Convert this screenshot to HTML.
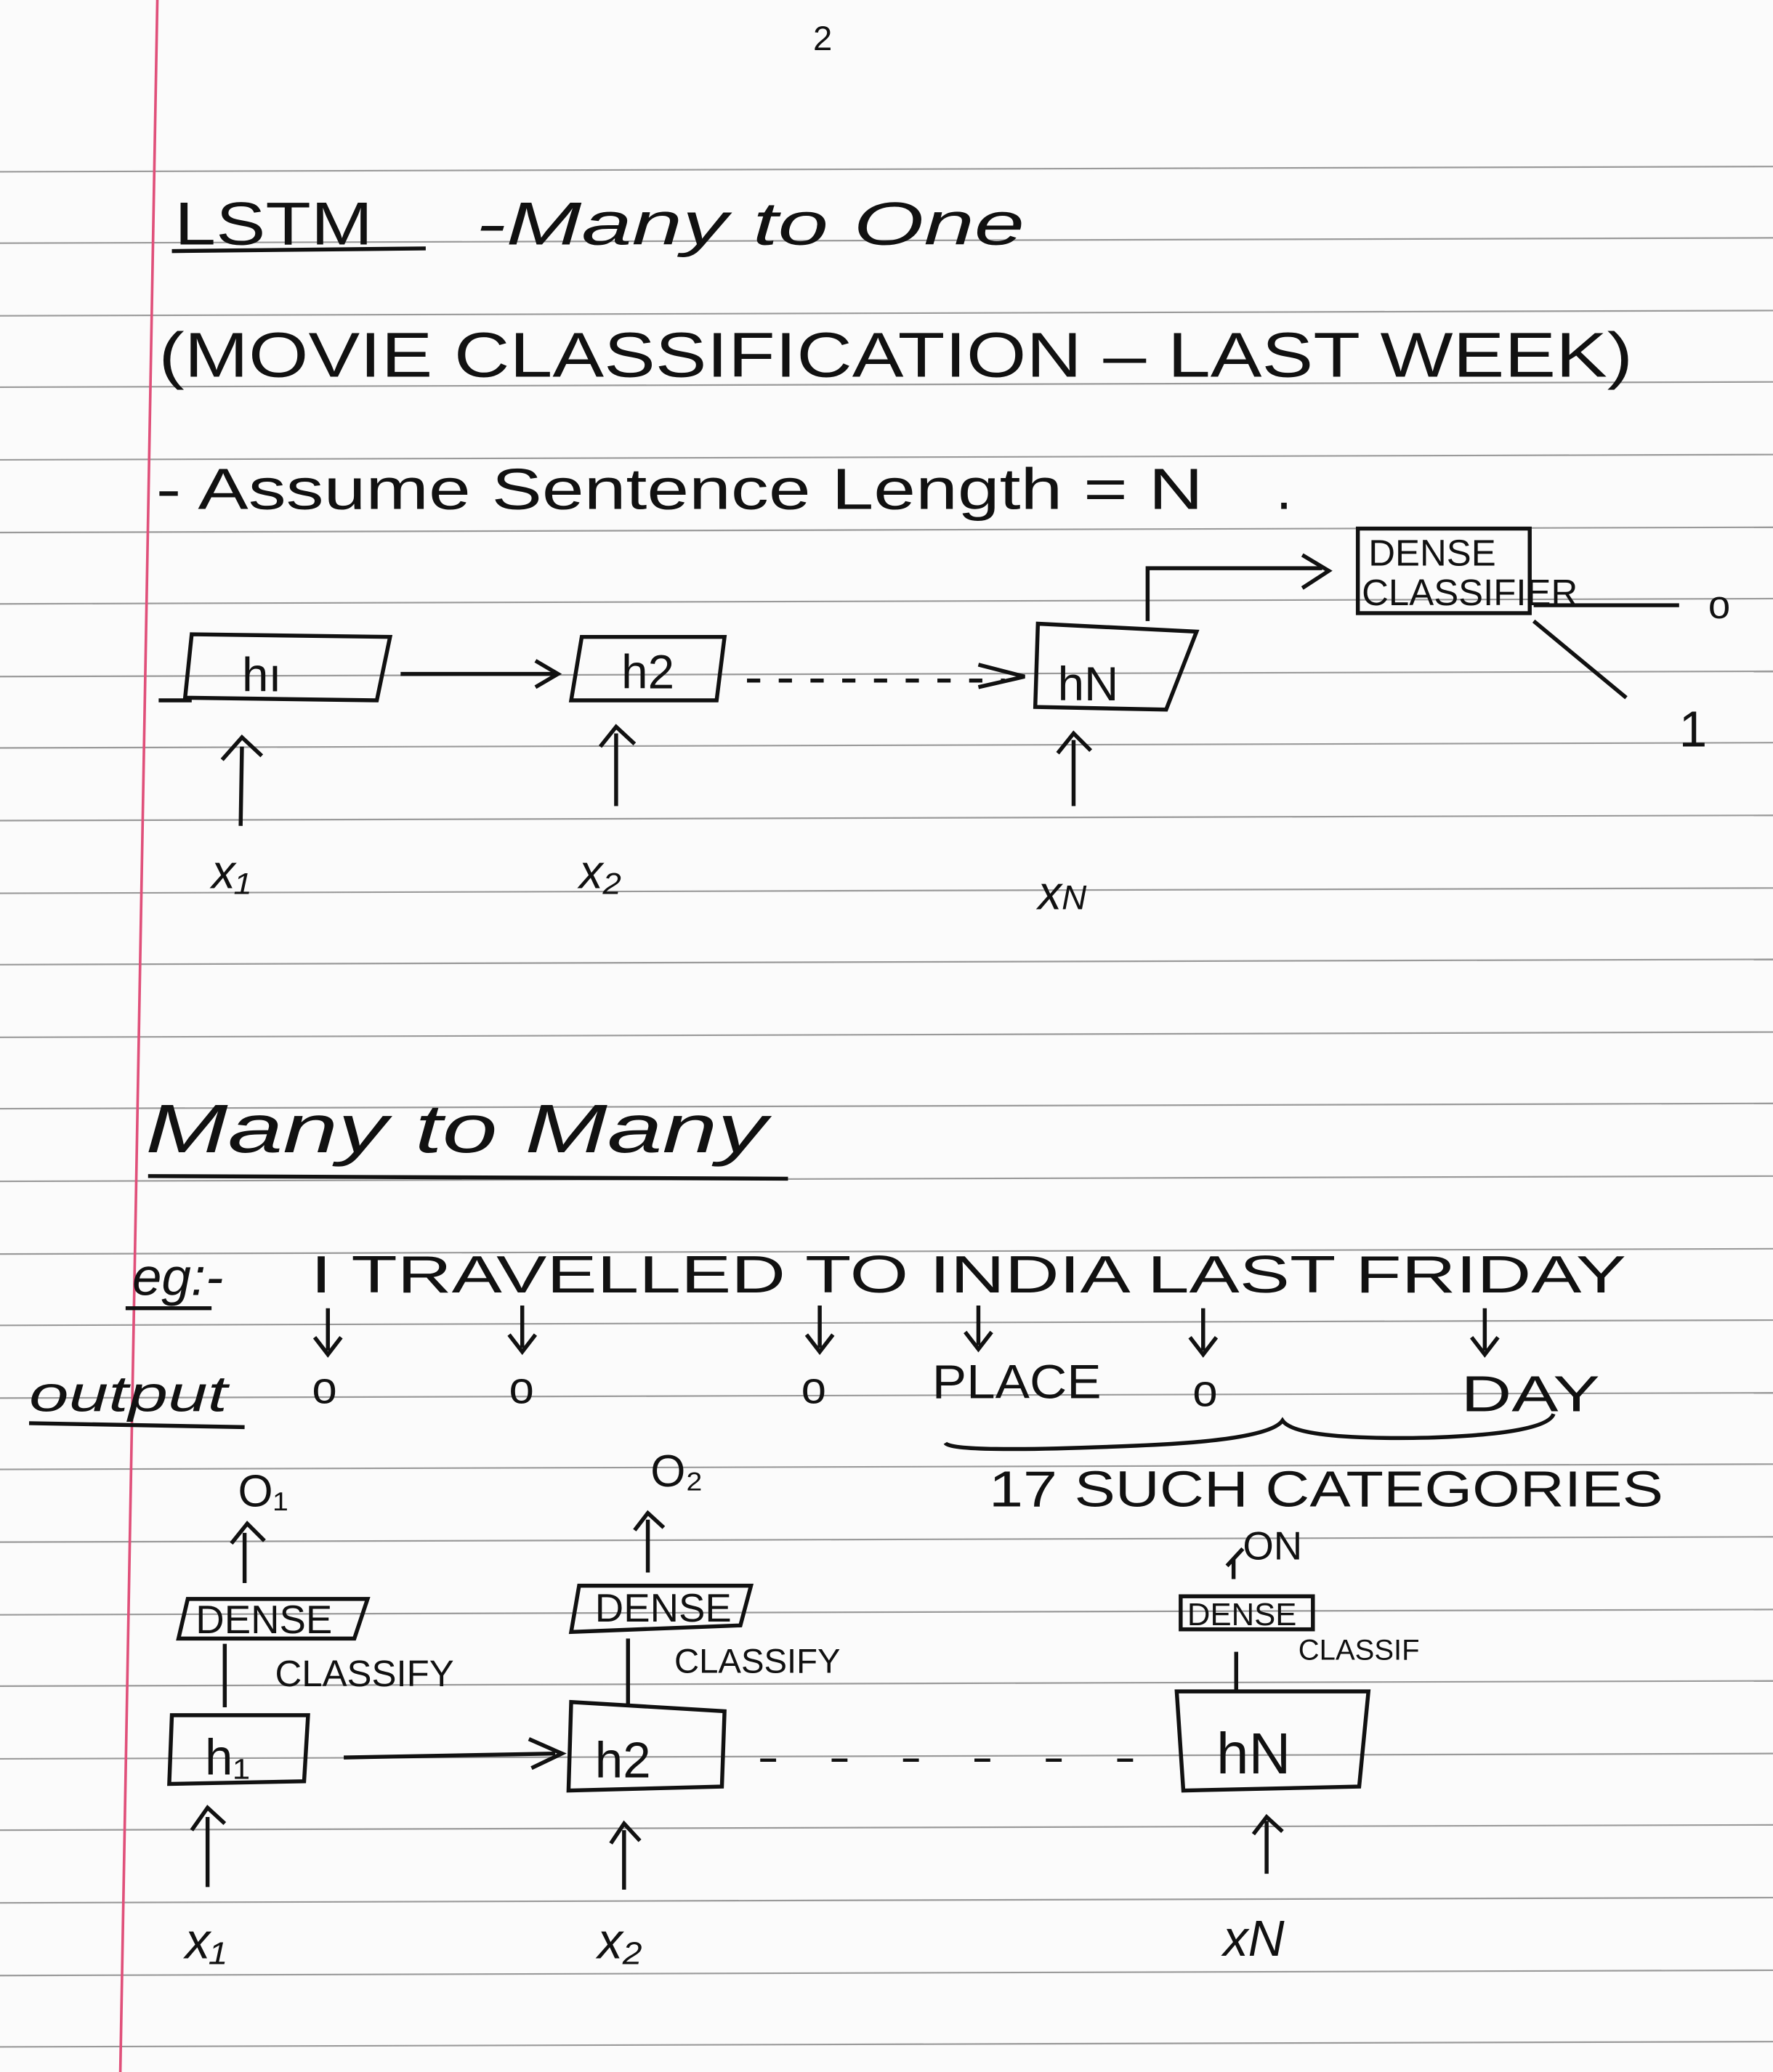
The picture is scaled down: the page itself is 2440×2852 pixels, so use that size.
<!DOCTYPE html>
<html><head><meta charset="utf-8"><style>
html,body{margin:0;padding:0;background:#fbfbfb;}
svg{display:block;}
text{font-family:"Liberation Sans",sans-serif;fill:#111;}
</style></head><body>
<svg width="2440" height="2852" viewBox="0 0 1341 1568" preserveAspectRatio="none" xmlns="http://www.w3.org/2000/svg">
<rect width="1341" height="1568" fill="#fbfbfb"/>
<g stroke="#9a9a9a" stroke-width="1.2">
<line x1="0" y1="130" x2="1341" y2="126"/><line x1="0" y1="184" x2="1341" y2="180"/><line x1="0" y1="239" x2="1341" y2="235"/><line x1="0" y1="293" x2="1341" y2="289"/><line x1="0" y1="348" x2="1341" y2="344"/><line x1="0" y1="403" x2="1341" y2="399"/><line x1="0" y1="457" x2="1341" y2="453"/><line x1="0" y1="512" x2="1341" y2="508"/><line x1="0" y1="566" x2="1341" y2="562"/><line x1="0" y1="621" x2="1341" y2="617"/><line x1="0" y1="676" x2="1341" y2="672"/><line x1="0" y1="730" x2="1341" y2="726"/><line x1="0" y1="785" x2="1341" y2="781"/><line x1="0" y1="839" x2="1341" y2="835"/><line x1="0" y1="894" x2="1341" y2="890"/><line x1="0" y1="949" x2="1341" y2="945"/><line x1="0" y1="1003" x2="1341" y2="999"/><line x1="0" y1="1058" x2="1341" y2="1054"/><line x1="0" y1="1112" x2="1341" y2="1108"/><line x1="0" y1="1167" x2="1341" y2="1163"/><line x1="0" y1="1222" x2="1341" y2="1218"/><line x1="0" y1="1276" x2="1341" y2="1272"/><line x1="0" y1="1331" x2="1341" y2="1327"/><line x1="0" y1="1385" x2="1341" y2="1381"/><line x1="0" y1="1440" x2="1341" y2="1436"/><line x1="0" y1="1495" x2="1341" y2="1491"/><line x1="0" y1="1549" x2="1341" y2="1545"/>
</g>
<line x1="119" y1="0" x2="91" y2="1568" stroke="#e0507a" stroke-width="2"/>
<g font-size="46">
<text x="615" y="38" font-size="26">2</text>
<text x="132" y="185" textLength="150" lengthAdjust="spacingAndGlyphs">LSTM</text>
<line x1="130" y1="190" x2="322" y2="188" stroke="#111" stroke-width="3"/>
<text x="360" y="185" font-style="italic" textLength="415" lengthAdjust="spacingAndGlyphs">-Many to One</text>
<text x="120" y="285" font-size="48" textLength="1115" lengthAdjust="spacingAndGlyphs">(MOVIE CLASSIFICATION – LAST WEEK)</text>
<text x="118" y="385" font-size="44" textLength="792" lengthAdjust="spacingAndGlyphs">- Assume Sentence Length = N</text>
<text x="965" y="385" font-size="44">.</text>
</g>
<g stroke="#111" stroke-width="3" fill="none">
<path d="M145 480 L295 482 L285 530 L140 528 Z"/>
<line x1="120" y1="530" x2="145" y2="530"/>
<path d="M440 482 L548 482 L542 530 L432 530 Z"/>
<path d="M785 472 L905 478 L882 537 L783 535 Z"/>
<line x1="303" y1="510" x2="420" y2="510"/><path d="M405 500 L422 510 L405 520"/>
<path d="M565 515 H760" stroke-dasharray="10 14"/><path d="M740 503 L775 512 L740 520"/>
<path d="M868 470 V430 H1000"/><path d="M985 420 L1005 432 L985 445"/>
<rect x="1027" y="400" width="130" height="64"/>
<line x1="1160" y1="458" x2="1270" y2="458"/>
<line x1="1160" y1="470" x2="1230" y2="528"/>
<path d="M182 625 L183 565 M168 575 L183 558 L198 572"/>
<path d="M466 610 L466 555 M454 565 L466 550 L480 563"/>
<path d="M812 610 L812 560 M800 570 L812 555 L825 568"/>
</g>
<g font-size="36">
<text x="183" y="523">hı</text><text x="470" y="521">h2</text><text x="800" y="530">hN</text>
<text x="1035" y="428" font-size="28">DENSE</text><text x="1030" y="458" font-size="28">CLASSIFIER</text>
<text x="1292" y="468" font-size="30">o</text><text x="1270" y="565" font-size="38">1</text>
<text x="160" y="672" font-style="italic">x₁</text><text x="438" y="672" font-style="italic">x₂</text><text x="785" y="688" font-style="italic">x<tspan font-size="26">N</tspan></text>
</g>
<text x="110" y="872" font-size="52" font-style="italic" textLength="470" lengthAdjust="spacingAndGlyphs">Many to Many</text>
<line x1="112" y1="890" x2="596" y2="892" stroke="#111" stroke-width="3"/>
<g font-size="40">
<text x="100" y="980" font-style="italic">eg:-</text>
<line x1="95" y1="990" x2="160" y2="990" stroke="#111" stroke-width="3"/>
<text x="235" y="978" textLength="995" lengthAdjust="spacingAndGlyphs">I TRAVELLED TO INDIA LAST FRIDAY</text>
<text x="22" y="1068" font-style="italic" font-size="38" textLength="150" lengthAdjust="spacingAndGlyphs">output</text>
<line x1="22" y1="1077" x2="185" y2="1080" stroke="#111" stroke-width="3"/>
<text x="236" y="1062" font-size="34">o</text><text x="385" y="1062" font-size="34">o</text><text x="606" y="1062" font-size="34">o</text>
<text x="705" y="1058" font-size="36" textLength="128" lengthAdjust="spacingAndGlyphs">PLACE</text><text x="902" y="1064" font-size="34">o</text><text x="1105" y="1068" font-size="38" textLength="105" lengthAdjust="spacingAndGlyphs">DAY</text>
<text x="748" y="1140" font-size="38" textLength="510" lengthAdjust="spacingAndGlyphs">17 SUCH CATEGORIES</text>
<text x="180" y="1140" font-size="34">O₁</text><text x="492" y="1125" font-size="34">O₂</text><text x="940" y="1180" font-size="30">ON</text>
</g>
<g stroke="#111" stroke-width="3" fill="none">
<path d="M248 990 V1022 M238 1012 L248 1025 L258 1012"/>
<path d="M395 988 V1020 M385 1010 L395 1023 L405 1010"/>
<path d="M620 988 V1020 M610 1010 L620 1023 L630 1010"/>
<path d="M740 988 V1018 M730 1008 L740 1021 L750 1008"/>
<path d="M910 990 V1022 M900 1012 L910 1025 L920 1012"/>
<path d="M1123 990 V1022 M1113 1012 L1123 1025 L1133 1012"/>
<path d="M715 1092 Q720 1100 860 1094 Q960 1090 970 1075 Q980 1090 1080 1088 Q1170 1085 1175 1070"/>
<path d="M185 1198 V1160 M175 1168 L187 1153 L200 1166"/>
<path d="M490 1190 V1150 M480 1158 L490 1145 L502 1156"/>
<path d="M933 1195 V1180 M928 1185 L940 1172"/>
<path d="M142 1210 L278 1210 L268 1240 L135 1240 Z"/>
<path d="M438 1200 L568 1200 L560 1230 L432 1235 Z"/>
<rect x="893" y="1208" width="100" height="25"/>
<path d="M170 1244 V1292"/><path d="M475 1240 V1290"/><path d="M935 1250 V1280"/>
<path d="M130 1298 L233 1298 L230 1348 L128 1350 Z"/>
<path d="M432 1288 L548 1295 L546 1352 L430 1355 Z"/>
<path d="M890 1280 L1035 1280 L1028 1352 L895 1355 Z"/>
<line x1="260" y1="1330" x2="420" y2="1327"/><path d="M400 1316 L425 1327 L402 1338"/>
<path d="M575 1332 H860" stroke-dasharray="12 42" stroke-width="2.5"/>
<path d="M157 1428 V1375 M145 1385 L157 1368 L170 1380"/>
<path d="M472 1430 V1385 M462 1395 L472 1380 L484 1393"/>
<path d="M958 1418 V1378 M948 1388 L958 1375 L970 1386"/>
</g>
<g font-size="30">
<text x="148" y="1236">DENSE</text><text x="208" y="1276" font-size="28">CLASSIFY</text>
<text x="450" y="1227">DENSE</text><text x="510" y="1266" font-size="26">CLASSIFY</text>
<text x="898" y="1230" font-size="24">DENSE</text><text x="982" y="1256" font-size="22">CLASSIF</text>
<text x="155" y="1343" font-size="38">h₁</text><text x="450" y="1345" font-size="38">h2</text><text x="920" y="1342" font-size="44">hN</text>
<text x="140" y="1482" font-size="38" font-style="italic">x₁</text><text x="452" y="1482" font-size="38" font-style="italic">x₂</text><text x="925" y="1480" font-size="38" font-style="italic">xN</text>
</g>
</svg>
</body></html>
